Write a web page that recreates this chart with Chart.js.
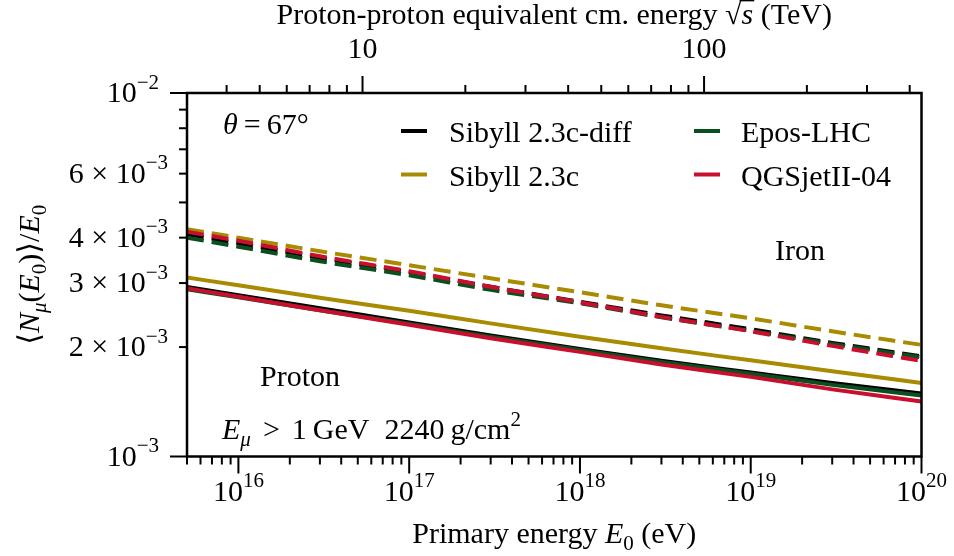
<!DOCTYPE html>
<html>
<head>
<meta charset="utf-8">
<script src="https://cdn.jsdelivr.net/npm/chart.js@4.4.0/dist/chart.umd.min.js"></script>
<style>
    html, body { margin: 0; padding: 0; background: #fff; }
    #wrap { width: 954px; height: 556px; }
</style>
</head>
<body>
<div id="wrap"><canvas id="muonChart"></canvas></div>
<script>
// ========== DADOS ==========
const energies = [5e15, 1e16, 3e16, 1e17, 3e17, 1e18, 3e18, 1e19, 3e19, 1e20];

// proton (solid)
const protonSibyllDiff = [2.927e-3, 2.776e-3, 2.557e-3, 2.339e-3, 2.154e-3, 1.977e-3, 1.833e-3, 1.703e-3, 1.594e-3, 1.491e-3];
const protonSibyll     = [3.106e-3, 2.959e-3, 2.733e-3, 2.517e-3, 2.324e-3, 2.135e-3, 1.984e-3, 1.839e-3, 1.715e-3, 1.594e-3];
const protonEpos       = [2.884e-3, 2.742e-3, 2.525e-3, 2.317e-3, 2.135e-3, 1.965e-3, 1.821e-3, 1.688e-3, 1.574e-3, 1.472e-3];
const protonQgsjet     = [2.902e-3, 2.751e-3, 2.525e-3, 2.303e-3, 2.115e-3, 1.940e-3, 1.792e-3, 1.656e-3, 1.530e-3, 1.417e-3];

// iron (dashed)
const ironSibyllDiff = [4.088e-3, 3.861e-3, 3.522e-3, 3.212e-3, 2.930e-3, 2.664e-3, 2.445e-3, 2.239e-3, 2.054e-3, 1.886e-3];
const ironSibyll     = [4.220e-3, 3.998e-3, 3.671e-3, 3.359e-3, 3.093e-3, 2.830e-3, 2.606e-3, 2.399e-3, 2.210e-3, 2.028e-3];
const ironEpos       = [3.998e-3, 3.777e-3, 3.445e-3, 3.151e-3, 2.875e-3, 2.639e-3, 2.414e-3, 2.217e-3, 2.041e-3, 1.874e-3];
const ironQgsjet     = [4.153e-3, 3.923e-3, 3.556e-3, 3.232e-3, 2.930e-3, 2.656e-3, 2.422e-3, 2.210e-3, 2.015e-3, 1.833e-3];

const models = ['Sibyll 2.3c-diff', 'Sibyll 2.3c', 'Epos-LHC', 'QGSjetII-04'];
const colors = ['#000000', '#a88b00', '#0b4f1f', '#c8102e'];

const xMin = 5e15, xMax = 1e20;
const yMin = 1e-3, yMax = 1e-2;
const topTickLabels = [10, 100];          // sqrt(s) in TeV
const yLabelledMinors = [2, 3, 4, 6];     // x 10^-3

// sqrt(s) (TeV) for a proton-proton collision equivalent to E0 (eV)
const MP = 0.938e9;
const sqrtS = e => Math.sqrt(2 * MP * e) / 1e12;

const FAMILY = '"Liberation Serif", "DejaVu Serif", serif';

// ========== TEXTO COM ÍNDICES ==========
function drawRich(ctx, parts, x, y, size, align) {
    const items = parts.map(p => {
        const sz = p.s ? size * 0.7 : size;
        const font = (p.i ? 'italic ' : '') + sz + 'px ' + FAMILY;
        ctx.font = font;
        const dy = p.s === 'sub' ? size * 0.22 : (p.s === 'sup' ? -size * 0.44 : 0);
        return { p, font, w: ctx.measureText(p.t).width, dy };
    });
    const total = items.reduce((a, it) => a + it.w, 0);
    let cx = align === 'center' ? x - total / 2 : (align === 'right' ? x - total : x);
    ctx.textAlign = 'left';
    ctx.textBaseline = 'alphabetic';
    for (const it of items) {
        ctx.font = it.font;
        ctx.fillText(it.p.t, cx, y + it.dy);
        if (it.p.over) {
            ctx.save();
            ctx.lineWidth = 1.5;
            ctx.beginPath();
            ctx.moveTo(cx - 2, y - size * 0.78);
            ctx.lineTo(cx + it.w + 1, y - size * 0.78);
            ctx.stroke();
            ctx.restore();
        }
        cx += it.w;
    }
}

function logTicks(min, max) {
    const out = [];
    for (let d = Math.floor(Math.log10(min)); d <= Math.ceil(Math.log10(max)); d++) {
        for (let m = 1; m <= 9; m++) {
            const v = m * Math.pow(10, d);
            if (v >= min * 0.999 && v <= max * 1.001) out.push({ v, m, d });
        }
    }
    return out;
}

// ========== EIXOS, MOLDURA E TEXTOS ==========
const decorPlugin = {
    id: 'decor',
    afterDraw(chart) {
        const ctx = chart.ctx;
        const a = chart.chartArea;
        const sx = chart.scales.x, sx2 = chart.scales.x2, sy = chart.scales.y;
        const MAJ = 17, MIN = 8, PAD = 11, FS = 30;
        ctx.save();
        ctx.fillStyle = '#000';
        ctx.strokeStyle = '#000';

        // moldura
        ctx.lineWidth = 2.5;
        ctx.strokeRect(a.left, a.top, a.right - a.left, a.bottom - a.top);

        ctx.lineWidth = 2;
        // eixo x inferior
        for (const t of logTicks(xMin, xMax)) {
            const px = sx.getPixelForValue(t.v);
            const len = t.m === 1 ? MAJ : MIN;
            ctx.beginPath();
            ctx.moveTo(px, a.bottom);
            ctx.lineTo(px, a.bottom + len);
            ctx.stroke();
            if (t.m === 1) {
                drawRich(ctx, [{ t: '10' }, { t: String(t.d), s: 'sup' }], px, a.bottom + 44, FS, 'center');
            }
        }
        // eixo x superior (sqrt s)
        for (const t of logTicks(sqrtS(xMin), sqrtS(xMax))) {
            const px = sx2.getPixelForValue(t.v);
            const len = t.m === 1 ? MAJ : MIN;
            ctx.beginPath();
            ctx.moveTo(px, a.top);
            ctx.lineTo(px, a.top - len);
            ctx.stroke();
            if (topTickLabels.includes(Math.round(t.v))) {
                drawRich(ctx, [{ t: String(Math.round(t.v)) }], px, 58, FS, 'center');
            }
        }
        // eixo y
        for (const t of logTicks(yMin, yMax)) {
            const py = sy.getPixelForValue(t.v);
            const len = t.m === 1 ? MAJ : MIN;
            ctx.beginPath();
            ctx.moveTo(a.left, py);
            ctx.lineTo(a.left - len, py);
            ctx.stroke();
            const xr = a.left - len - PAD;
            if (t.m === 1) {
                drawRich(ctx, [{ t: '10' }, { t: '\u2212' + (-t.d), s: 'sup' }], xr, py + 9, FS, 'right');
            } else if (yLabelledMinors.includes(t.m)) {
                drawRich(ctx, [{ t: t.m + ' \u00d7 10' }, { t: '\u2212' + (-t.d), s: 'sup' }], xr, py + 9, FS, 'right');
            }
        }

        // títulos dos eixos
        const cxp = (a.left + a.right) / 2;
        drawRich(ctx, [{ t: 'Primary energy ' }, { t: 'E', i: true }, { t: '0', s: 'sub' }, { t: ' (eV)' }], cxp, 543, FS, 'center');
        drawRich(ctx, [{ t: 'Proton-proton equivalent cm. energy ' }, { t: '\u221a' }, { t: 's', i: true, over: true }, { t: ' (TeV)' }], cxp, 24, FS, 'center');
        ctx.save();
        ctx.translate(39, (a.top + a.bottom) / 2);
        ctx.rotate(-Math.PI / 2);
        drawRich(ctx, [{ t: '\u27e8' }, { t: 'N', i: true }, { t: '\u03bc', i: true, s: 'sub' }, { t: '(' }, { t: 'E', i: true }, { t: '0', s: 'sub' }, { t: ')\u27e9/' }, { t: 'E', i: true }, { t: '0', s: 'sub' }], 0, 0, FS, 'center');
        ctx.restore();

        // anotações
        drawRich(ctx, [{ t: '\u03b8', i: true }, { t: '\u2009=\u200967\u00b0' }], 223, 134, 30, 'left');
        drawRich(ctx, [{ t: 'Iron' }], 775, 260, 30, 'left');
        drawRich(ctx, [{ t: 'Proton' }], 260, 386, 30, 'left');
        drawRich(ctx, [{ t: 'E', i: true }, { t: '\u03bc', i: true, s: 'sub' }, { t: '\u2009\u2009>\u2009\u20091\u2009GeV  2240\u2009g/cm' }, { t: '2', s: 'sup' }], 222, 439, 30, 'left');

        // legenda (2 colunas)
        const cols = [{ hx: 401, tx: 449 }, { hx: 694, tx: 741 }];
        const rows = [131, 174.5];
        const order = [[0, 0], [1, 0], [0, 1], [1, 1]];   // [linha, coluna] de cada modelo
        models.forEach((name, i) => {
            const [r, c] = order[i];
            ctx.strokeStyle = colors[i];
            ctx.lineWidth = 4;
            ctx.beginPath();
            ctx.moveTo(cols[c].hx, rows[r]);
            ctx.lineTo(cols[c].hx + 26, rows[r]);
            ctx.stroke();
            ctx.fillStyle = '#000';
            drawRich(ctx, [{ t: name }], cols[c].tx, rows[r] + 11, 30, 'left');
        });
        ctx.restore();
    }
};

// ========== GRÁFICO ==========
const series = [
    { data: protonSibyllDiff, color: 0, dashed: false },
    { data: protonSibyll, color: 1, dashed: false },
    { data: protonEpos, color: 2, dashed: false },
    { data: protonQgsjet, color: 3, dashed: false },
    { data: ironSibyllDiff, color: 0, dashed: true },
    { data: ironSibyll, color: 1, dashed: true },
    { data: ironEpos, color: 2, dashed: true },
    { data: ironQgsjet, color: 3, dashed: true }
];

new Chart(document.getElementById('muonChart').getContext('2d'), {
    type: 'line',
    data: {
        datasets: series.map(s => ({
            label: models[s.color] + (s.dashed ? ' (Fe)' : ' (p)'),
            data: energies.map((e, i) => ({ x: e, y: s.data[i] })),
            borderColor: colors[s.color],
            borderWidth: 4,
            borderDash: s.dashed ? [17, 8] : [],
            pointRadius: 0,
            cubicInterpolationMode: 'monotone',
            fill: false,
            order: 4 - s.color
        }))
    },
    options: {
        responsive: true,
        maintainAspectRatio: false,
        animation: false,
        layout: { padding: { left: 187, top: 93, right: 32.5, bottom: 99.5 } },
        plugins: {
            legend: { display: false },
            tooltip: { enabled: false }
        },
        scales: {
            x: { type: 'logarithmic', min: xMin, max: xMax, display: false },
            x2: { type: 'logarithmic', position: 'top', min: sqrtS(xMin), max: sqrtS(xMax), display: false },
            y: { type: 'logarithmic', min: yMin, max: yMax, display: false }
        }
    },
    plugins: [decorPlugin]
});
</script>
</body>
</html>
